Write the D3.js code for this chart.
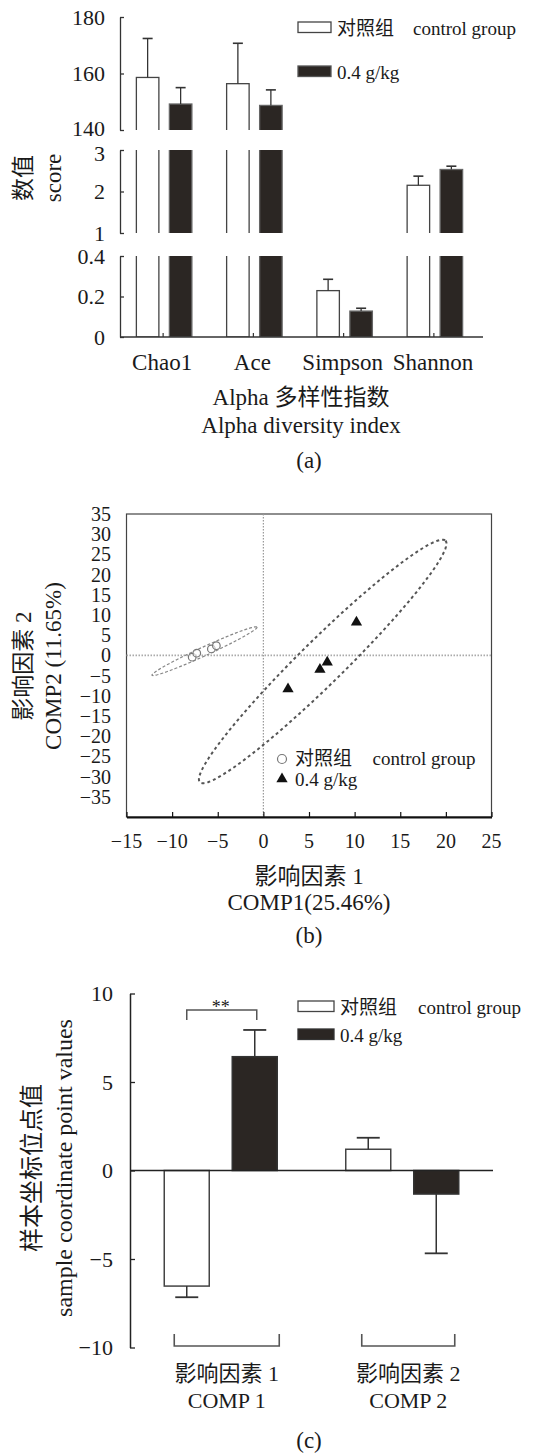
<!DOCTYPE html>
<html>
<head>
<meta charset="utf-8">
<script src="https://cdn.jsdelivr.net/npm/d3@7"></script>
<style>
  html, body { margin: 0; padding: 0; background: #fff; }
  svg { display: block; }
  text { font-family: "Liberation Serif", "Noto Sans CJK SC", serif; fill: #1a1a1a; }
</style>
</head>
<body>
<script>
// ---------- Panel (a) data ----------
const categoriesA = ["Chao1", "Ace", "Simpson", "Shannon"];
const controlA = [158.6, 156.4, 0.229, 2.15];
const controlErrA = [13.8, 14.3, 0.056, 0.22];
const treatedA = [149.2, 148.7, 0.128, 2.53];
const treatedErrA = [5.8, 5.5, 0.014, 0.08];
const segmentDomainsA = [[140, 180], [1, 3], [0, 0.4]];
const segmentTicksA = [[140, 160, 180], [1, 2, 3], [0, 0.2, 0.4]];
const seriesNames = ["对照组", "0.4 g/kg"];
const seriesNamesEn = ["control group", ""];

// ---------- Panel (b) data ----------
const controlX = [-7.8, -7.3, -5.7, -5.15];
const controlY = [-0.45, 0.55, 1.6, 2.4];
const treatedX = [2.7, 6.2, 7.0, 10.2];
const treatedY = [-8.3, -3.5, -1.7, 8.2];
const controlEllipse = { center: [-6.45, 1.05], major: [5.75, 5.95], minor: [0.2, -1.0] };
const treatedEllipse = { center: [6.5, -1.5], major: [13.46, 29.9], minor: [1.69, -3.88] };
const xTicksB = [-15, -10, -5, 0, 5, 10, 15, 20, 25];
const yTicksB = [-35, -30, -25, -20, -15, -10, -5, 0, 5, 10, 15, 20, 25, 30, 35];

// ---------- Panel (c) data ----------
const categoriesC = ["COMP1", "COMP2"];
const categoryLabelsC = [["影响因素 1", "COMP 1"], ["影响因素 2", "COMP 2"]];
const controlC = [-6.53, 1.2];
const controlErrC = [0.63, 0.65];
const treatedC = [6.43, -1.33];
const treatedErrC = [1.51, 3.35];
const yTicksC = [-10, -5, 0, 5, 10];

const fmt = v => (v < 0 ? "\u2212" + Math.abs(v) : String(v));
const DARK = "#2b2623";
const LINE = "#333";

const svg = d3.select("body").append("svg").attr("width", 542).attr("height", 1454);

// ======================= Panel (a) =======================
(function () {
  const g = svg.append("g");
  const x = d3.scaleBand().domain(categoriesA).range([119, 480]);
  const segRanges = [[130, 17], [233, 150], [337, 256]];
  const bw = 22.5, off = 16.5;
  const groups = [
    { vals: controlA, errs: controlErrA, fill: "#fff", stroke: "#444", dx: -off },
    { vals: treatedA, errs: treatedErrA, fill: DARK, stroke: "#666", dx: off }
  ];
  segmentDomainsA.forEach((dom, si) => {
    const y = d3.scaleLinear().domain(dom).range(segRanges[si]);
    const clipId = "clipA" + si;
    g.append("clipPath").attr("id", clipId).append("rect")
      .attr("x", 110).attr("width", 400)
      .attr("y", segRanges[si][1]).attr("height", segRanges[si][0] - segRanges[si][1]);
    const cg = g.append("g").attr("clip-path", `url(#${clipId})`);
    groups.forEach(gr => {
      categoriesA.forEach((c, i) => {
        const v = gr.vals[i];
        if (v <= dom[0]) return;
        const cx = x(c) + x.bandwidth() / 2 + gr.dx;
        const top = v >= dom[1] ? y(dom[1]) - 5 : y(v);
        const bottom = si === 2 ? y(dom[0]) : y(dom[0]) + 5;
        cg.append("rect").attr("x", cx - bw / 2).attr("y", top)
          .attr("width", bw).attr("height", bottom - top)
          .attr("fill", gr.fill).attr("stroke", gr.stroke).attr("stroke-width", 1.3);
        if (v < dom[1]) {
          const e = v + gr.errs[i];
          g.append("line").attr("x1", cx).attr("x2", cx).attr("y1", y(v)).attr("y2", y(e))
            .attr("stroke", LINE).attr("stroke-width", 1.3);
          g.append("line").attr("x1", cx - 5).attr("x2", cx + 5).attr("y1", y(e)).attr("y2", y(e))
            .attr("stroke", LINE).attr("stroke-width", 1.6);
        }
      });
    });
    // y axis bracket
    const ax = g.append("g").attr("transform", "translate(120,0)");
    const axis = d3.axisRight(y).tickValues(segmentTicksA[si]).tickSize(4).tickSizeOuter(0).tickFormat("");
    ax.call(axis);
    ax.select(".domain").attr("stroke", LINE).attr("stroke-width", 1.3);
    ax.selectAll(".tick line").attr("stroke", LINE).attr("stroke-width", 1.3);
    segmentTicksA[si].forEach((t, ti) => {
      let shift = 0;
      if (si === 0 && ti === 0) shift = -2;
      if (si === 1 && ti === 2) shift = 3;
      g.append("text").attr("x", 105).attr("y", y(t) + shift).attr("dy", "0.35em")
        .attr("text-anchor", "end").attr("font-size", 22).text(t);
    });
  });
  // x axis
  g.append("line").attr("x1", 120).attr("x2", 483).attr("y1", 337).attr("y2", 337)
    .attr("stroke", LINE).attr("stroke-width", 1.5);
  categoriesA.forEach(c => {
    const cx = x(c) + x.bandwidth() / 2 - 1;
    g.append("line").attr("x1", cx).attr("x2", cx).attr("y1", 337).attr("y2", 333)
      .attr("stroke", LINE).attr("stroke-width", 1.2);
    g.append("text").attr("x", cx - 1).attr("y", 370).attr("text-anchor", "middle")
      .attr("font-size", 23).text(c);
  });
  g.append("text").attr("x", 301).attr("y", 405).attr("text-anchor", "middle").attr("font-size", 23).text("Alpha 多样性指数");
  g.append("text").attr("x", 301).attr("y", 433).attr("text-anchor", "middle").attr("font-size", 23).text("Alpha diversity index");
  g.append("text").attr("x", 309).attr("y", 468).attr("text-anchor", "middle").attr("font-size", 23).text("(a)");
  // y title
  g.append("text").attr("transform", "translate(23,178) rotate(-90)").attr("text-anchor", "middle")
    .attr("dominant-baseline", "central").attr("font-size", 23).text("数值");
  g.append("text").attr("transform", "translate(53,178) rotate(-90)").attr("text-anchor", "middle")
    .attr("dominant-baseline", "central").attr("font-size", 23).text("score");
  // legend
  [[22, "#fff", "#444"], [66, DARK, "#555"]].forEach((d, i) => {
    g.append("rect").attr("x", 298).attr("y", d[0]).attr("width", 33).attr("height", 10.5)
      .attr("fill", d[1]).attr("stroke", d[2]).attr("stroke-width", 1.3);
    g.append("text").attr("x", 337).attr("y", d[0] + 12.5).attr("font-size", 19).text(seriesNames[i]);
    if (seriesNamesEn[i]) g.append("text").attr("x", 413).attr("y", d[0] + 12.5).attr("font-size", 19).text(seriesNamesEn[i]);
  });
})();

// ======================= Panel (b) =======================
(function () {
  const g = svg.append("g");
  const x = d3.scaleLinear().domain([-15, 25]).range([126.5, 491.5]);
  const y = d3.scaleLinear().domain([-40, 35]).range([817, 514]);
  // frame
  g.append("rect").attr("x", x(-15)).attr("y", y(35)).attr("width", x(25) - x(-15)).attr("height", y(-40) - y(35))
    .attr("fill", "none").attr("stroke", "#444").attr("stroke-width", 1.2);
  // reference dotted lines
  g.append("line").attr("x1", x(0)).attr("x2", x(0)).attr("y1", y(35)).attr("y2", y(-40))
    .attr("stroke", "#999").attr("stroke-width", 1.2).attr("stroke-dasharray", "1.5,1.5");
  g.append("line").attr("x1", x(-15)).attr("x2", x(25)).attr("y1", y(0)).attr("y2", y(0))
    .attr("stroke", "#aaa").attr("stroke-width", 1.6).attr("stroke-dasharray", "1.5,1.5");
  // bottom axis
  const ax = g.append("g").attr("transform", `translate(0,${y(-40)})`);
  ax.call(d3.axisTop(x).tickValues(xTicksB).tickSize(5).tickSizeOuter(0).tickFormat(""));
  ax.select(".domain").attr("stroke", "#111").attr("stroke-width", 1.8);
  ax.selectAll(".tick line").attr("stroke", "#111").attr("stroke-width", 1.2);
  xTicksB.forEach(t => {
    g.append("text").attr("x", x(t)).attr("y", 848).attr("text-anchor", "middle").attr("font-size", 20).text(fmt(t));
  });
  yTicksB.forEach(t => {
    g.append("text").attr("x", 111).attr("y", y(t)).attr("dy", "0.35em").attr("text-anchor", "end")
      .attr("font-size", 20).text(fmt(t));
  });
  // ellipses
  function ellipsePath(e) {
    const pts = d3.range(0, 361, 3).map(a => {
      const t = a * Math.PI / 180;
      return [x(e.center[0] + e.major[0] * Math.cos(t) + e.minor[0] * Math.sin(t)),
              y(e.center[1] + e.major[1] * Math.cos(t) + e.minor[1] * Math.sin(t))];
    });
    return d3.line().curve(d3.curveLinearClosed)(pts);
  }
  g.append("path").attr("d", ellipsePath(controlEllipse)).attr("fill", "none")
    .attr("stroke", "#888").attr("stroke-width", 1.2).attr("stroke-dasharray", "3,2");
  g.append("path").attr("d", ellipsePath(treatedEllipse)).attr("fill", "none")
    .attr("stroke", "#555").attr("stroke-width", 2).attr("stroke-dasharray", "3,3");
  // points
  controlX.forEach((v, i) => {
    g.append("circle").attr("cx", x(v)).attr("cy", y(controlY[i])).attr("r", 3.8)
      .attr("fill", "#fff").attr("fill-opacity", 0.6).attr("stroke", "#777").attr("stroke-width", 1.2);
  });
  const tri = d3.symbol().type(d3.symbolTriangle).size(55);
  treatedX.forEach((v, i) => {
    g.append("path").attr("d", tri()).attr("transform", `translate(${x(v)},${y(treatedY[i])})`).attr("fill", "#111");
  });
  // legend
  g.append("circle").attr("cx", 282).attr("cy", 759).attr("r", 4.5).attr("fill", "#fff").attr("stroke", "#777").attr("stroke-width", 1.2);
  g.append("path").attr("d", tri()).attr("transform", "translate(282,779)").attr("fill", "#111");
  g.append("text").attr("x", 295).attr("y", 765).attr("font-size", 19).text(seriesNames[0]);
  g.append("text").attr("x", 372.5).attr("y", 765).attr("font-size", 19).text(seriesNamesEn[0]);
  g.append("text").attr("x", 295).attr("y", 786).attr("font-size", 19).text(seriesNames[1]);
  // titles
  g.append("text").attr("x", 309).attr("y", 884).attr("text-anchor", "middle").attr("font-size", 23).text("影响因素 1");
  g.append("text").attr("x", 309).attr("y", 910).attr("text-anchor", "middle").attr("font-size", 23).text("COMP1(25.46%)");
  g.append("text").attr("x", 309).attr("y", 943).attr("text-anchor", "middle").attr("font-size", 23).text("(b)");
  g.append("text").attr("transform", "translate(23,666) rotate(-90)").attr("text-anchor", "middle")
    .attr("dominant-baseline", "central").attr("font-size", 23).text("影响因素 2");
  g.append("text").attr("transform", "translate(53,666) rotate(-90)").attr("text-anchor", "middle")
    .attr("dominant-baseline", "central").attr("font-size", 23).text("COMP2 (11.65%)");
})();

// ======================= Panel (c) =======================
(function () {
  const g = svg.append("g");
  const x = d3.scaleBand().domain(categoriesC).range([130, 493]);
  const y = d3.scaleLinear().domain([-10, 10]).range([1347.5, 993.5]);
  const bw = 45, off = 34;
  const groups = [
    { vals: controlC, errs: controlErrC, fill: "#fff", stroke: "#444", dx: -off },
    { vals: treatedC, errs: treatedErrC, fill: DARK, stroke: "#333", dx: off }
  ];
  groups.forEach(gr => {
    categoriesC.forEach((c, i) => {
      const v = gr.vals[i];
      const cx = x(c) + x.bandwidth() / 2 + gr.dx;
      const e = v + Math.sign(v) * gr.errs[i];
      g.append("rect").attr("x", cx - bw / 2).attr("y", Math.min(y(v), y(0)))
        .attr("width", bw).attr("height", Math.abs(y(v) - y(0)))
        .attr("fill", gr.fill).attr("stroke", gr.stroke).attr("stroke-width", 1.5);
      g.append("line").attr("x1", cx).attr("x2", cx).attr("y1", y(v)).attr("y2", y(e))
        .attr("stroke", LINE).attr("stroke-width", 1.5);
      g.append("line").attr("x1", cx - 11.5).attr("x2", cx + 11.5).attr("y1", y(e)).attr("y2", y(e))
        .attr("stroke", LINE).attr("stroke-width", 1.8);
    });
  });
  // zero line
  g.append("line").attr("x1", 130).attr("x2", 493).attr("y1", y(0)).attr("y2", y(0))
    .attr("stroke", "#222").attr("stroke-width", 1.5);
  // y axis
  const ax = g.append("g").attr("transform", "translate(130,0)");
  ax.call(d3.axisRight(y).tickValues(yTicksC).tickSize(5).tickSizeOuter(0).tickFormat(""));
  ax.select(".domain").attr("stroke", "#222").attr("stroke-width", 1.5);
  ax.selectAll(".tick line").attr("stroke", "#222").attr("stroke-width", 1.3);
  yTicksC.forEach(t => {
    g.append("text").attr("x", 113).attr("y", y(t)).attr("dy", "0.35em").attr("text-anchor", "end")
      .attr("font-size", 22).text(fmt(t));
  });
  // category brackets & labels
  categoriesC.forEach((c, i) => {
    const cx = x(c) + x.bandwidth() / 2 + 6;
    const hw = i === 0 ? 52.5 : 46.5;
    g.append("path").attr("d", `M${cx - hw},1334V1346H${cx + hw}V1334`)
      .attr("fill", "none").attr("stroke", "#555").attr("stroke-width", 1.6);
    g.append("text").attr("x", cx).attr("y", 1381).attr("text-anchor", "middle").attr("font-size", 22).text(categoryLabelsC[i][0]);
    g.append("text").attr("x", cx).attr("y", 1408).attr("text-anchor", "middle").attr("font-size", 22).text(categoryLabelsC[i][1]);
  });
  // significance bracket
  const c1 = x("COMP1") + x.bandwidth() / 2;
  g.append("path").attr("d", `M${c1 - off},1020V1010H${c1 + off + 2}V1020`)
    .attr("fill", "none").attr("stroke", "#555").attr("stroke-width", 1.5);
  g.append("text").attr("x", c1).attr("y", 1013).attr("text-anchor", "middle").attr("font-size", 18).text("**");
  // legend
  [[1001, "#fff", "#444"], [1029, DARK, "#333"]].forEach((d, i) => {
    g.append("rect").attr("x", 298).attr("y", d[0]).attr("width", 36).attr("height", 10.5)
      .attr("fill", d[1]).attr("stroke", d[2]).attr("stroke-width", 1.3);
    g.append("text").attr("x", 340).attr("y", d[0] + 12.5).attr("font-size", 19).text(seriesNames[i]);
    if (seriesNamesEn[i]) g.append("text").attr("x", 418).attr("y", d[0] + 12.5).attr("font-size", 19).text(seriesNamesEn[i]);
  });
  // titles
  g.append("text").attr("x", 309).attr("y", 1448).attr("text-anchor", "middle").attr("font-size", 23).text("(c)");
  g.append("text").attr("transform", "translate(32,1168) rotate(-90)").attr("text-anchor", "middle")
    .attr("dominant-baseline", "central").attr("font-size", 24).text("样本坐标位点值");
  g.append("text").attr("transform", "translate(64,1168) rotate(-90)").attr("text-anchor", "middle")
    .attr("dominant-baseline", "central").attr("font-size", 24).text("sample coordinate point values");
})();
</script>
</body>
</html>
